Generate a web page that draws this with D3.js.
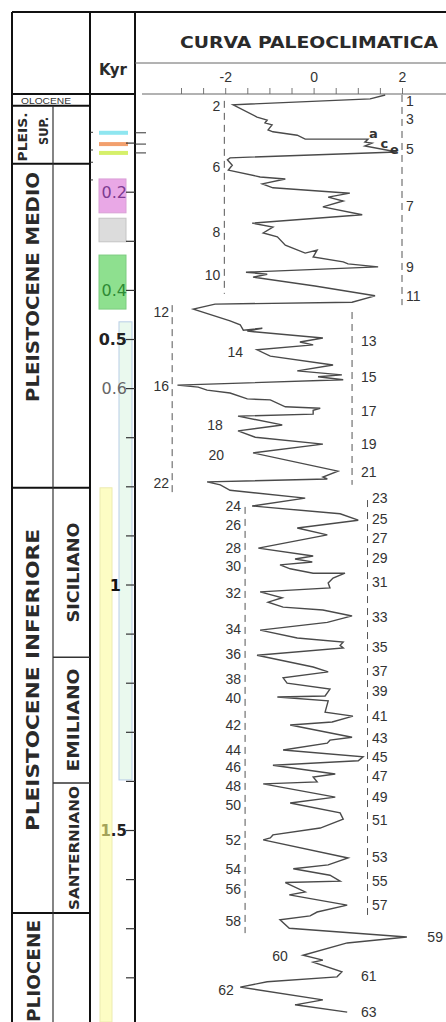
<!DOCTYPE html>
<html>
<head>
<meta charset="utf-8">
<script src="https://cdn.jsdelivr.net/npm/d3@7/dist/d3.min.js"></script>
<style>
  body { margin: 0; background: #fff; }
  svg { display: block; }
  text { font-family: "Liberation Sans", Arial, sans-serif; }
  .era { font-family: "DejaVu Sans", sans-serif; font-weight: bold; fill: #2a2a2a; }
</style>
</head>
<body>
<svg width="446" height="1022"></svg>
<script>
// ---- data ----
// paleoclimatic curve: value on the top axis, age (kyr) down the column
var curveValue = [1.62, 1.28, -1.82, -1.28, -1.05, -1.10, -0.94, -1.03, -0.92, -0.37, -0.19, 1.23, 1.16, 1.32, 1.16, 1.89,
  -1.89, -1.95, -1.84, -1.93, -1.21, -0.64, -1.16, -0.92, 0.82, 0.33, 0.67, 0.21, 1.10, -1.39, -0.92, -1.14, -0.82,
  -0.64, -0.19, 0.08, -0.01, 0.67, 0.78, 1.46, -1.53, -1.05, -1.37, 0.03, 1.39, 0.87, -2.23, -2.72, -1.89, -1.66,
  -1.59, -1.16, -1.50, 0.21, -0.31, -0.01, -1.28, -0.98, 0.44, -0.37, 0.64, 0.10, 0.67, -3.08, -2.61, -2.41, -1.89,
  -1.50, -0.98, -0.64, 0.15, -0.01, -0.01, -1.71, -0.71, -1.71, -1.32, 0.21, -1.37, 0.55, 0.21, 0.31, -2.41, -2.11,
  -1.89, -0.19, -1.39, 0.60, 1.01, -0.37, 0.31, -1.25, -0.01, -0.42, -0.03, -0.76, -0.53, -0.01, 0.71, 0.44, 0.33,
  0.37, -1.21, -0.71, -1.03, -0.69, 0.21, 0.87, 0.31, -1.21, -0.37, 0.67, 0.60, 0.67, -1.28, -0.01, 0.33, -0.69,
  -0.60, 0.37, 0.26, -0.82, 0.33, 0.26, 0.89, 0.42, -0.53, 0.87, 0.37, 0.31, -0.69, 1.12, 1.01, -0.92, 0.49, -0.01,
  0.08, -1.14, 0.49, -0.53, 0.60, 0.67, 0.15, -0.92, -0.98, -1.14, 0.78, 0.33, -0.46, 0.37, 0.60, -0.64, -0.19,
  -0.55, 0.76, 0.08, -0.08, -0.76, -0.55, 2.11, 0.76, -0.24, 0.21, -0.01, 0.64, 0.53, -1.05, -1.66, 0.21, -0.42, 0.76];
var curveAge = [2, 10, 22, 47, 53, 59, 63, 73, 77, 84, 92, 92, 98, 100, 106, 118,
  130, 134, 145, 155, 169, 173, 183, 191, 202, 210, 218, 230, 246, 263, 271, 283, 291,
  308, 324, 318, 332, 342, 346, 352, 363, 367, 373, 391, 411, 424, 428, 438, 462, 470,
  481, 477, 483, 497, 505, 511, 521, 534, 552, 564, 572, 576, 582, 593, 597, 603, 609,
  621, 623, 637, 640, 644, 652, 656, 674, 686, 699, 713, 731, 768, 780, 784, 790, 796,
  807, 823, 839, 855, 868, 884, 898, 925, 941, 947, 953, 959, 967, 976, 976, 986, 996,
  1006, 1014, 1026, 1035, 1045, 1051, 1063, 1076, 1092, 1108, 1116, 1123, 1128, 1143, 1167, 1177, 1189,
  1200, 1212, 1226, 1228, 1236, 1259, 1267, 1279, 1285, 1310, 1316, 1322, 1336, 1350, 1358, 1367, 1385, 1391,
  1401, 1405, 1432, 1444, 1464, 1477, 1495, 1509, 1515, 1519, 1556, 1570, 1578, 1591, 1603, 1606, 1625,
  1631, 1652, 1666, 1674, 1682, 1699, 1717, 1729, 1754, 1764, 1768, 1788, 1798, 1808, 1819, 1845, 1855, 1870];

// dashed reference lines
var dashValue = [-2.02, 2.0, -3.2, 0.87, -1.55, 1.22];
var dashFrom = [14, 2, 430, 444, 841, 827];
var dashTo = [407, 430, 813, 796, 1709, 1672];

// isotope stage labels, grouped by the line they hang on
var stageGroups = [
  { v: -2.11, anchor: "end", stages: [2, 6, 8, 10], ages: [24, 149, 281, 369] },
  { v: 2.09, anchor: "start", stages: [1, 3, 5, 7, 9, 11], ages: [14, 51, 112, 228, 352, 411] },
  { v: -3.27, anchor: "end", stages: [12, 16, 22], ages: [444, 595, 792] },
  { v: 1.07, anchor: "start", stages: [13, 15, 17, 19, 21], ages: [503, 576, 646, 713, 770] },
  { v: -1.64, anchor: "end", stages: [24, 26, 28, 30, 32, 34, 36, 38, 40, 42, 44, 46, 48, 50, 52, 54, 56, 58],
    ages: [839, 878, 925, 961, 1016, 1090, 1141, 1191, 1230, 1285, 1336, 1371, 1409, 1448, 1519, 1578, 1619, 1684] },
  { v: 1.32, anchor: "start", stages: [23, 25, 27, 29, 31, 33, 35, 37, 39, 41, 43, 45, 47, 49, 51, 53, 55, 57],
    ages: [823, 866, 904, 945, 994, 1065, 1126, 1175, 1216, 1267, 1312, 1350, 1389, 1432, 1479, 1554, 1603, 1652] }
];
var freeStages = [14, 18, 20, 59, 60, 61, 62, 63];
var freeValue = [-1.77, -2.23, -2.2, 2.75, -0.76, 1.25, -1.98, 1.25];
var freeAge = [525, 674, 735, 1717, 1756, 1796, 1825, 1870];
var subStages = ["a", "c", "e"];
var subValue = [1.35, 1.6, 1.83];
var subAge = [80, 100, 113];

// Kyr column
var kyrTicks = d3.range(100, 1900, 100);
var kyrLabelAge = [200, 400, 500, 600, 1000];
var kyrLabelText = ["0.2", "0.4", "0.5", "0.6", "1"];
var kyrLabelColor = ["#7d3b92", "#2f8a35", "#222", "#666", "#111"];
var substageLineAge = [79, 102, 120];
var substageLineColor = ["#8fe6f0", "#f2a06e", "#d6f06a"];
var boxFrom = [173, 253, 328, 464, 802];
var boxTo = [242, 301, 438, 1397, 1890];
var boxFill = ["#e9a8e6", "#dcdcdc", "#8ee08f", "#eaf9ee", "#fdfdc4"];
var boxStroke = ["#d9a0d6", "#c4c4c4", "#7dcc80", "#b8cde6", "#ecebb0"];
var boxLeft = [99, 99, 99, 119, 100];
var boxRight = [126, 126, 126, 132, 112];

// chronostratigraphy (kyr)
var epochName = ["OLOCENE", "PLEIS. SUP.", "PLEISTOCENE MEDIO", "PLEISTOCENE INFERIORE", "PLIOCENE"];
var epochFrom = [0, 24, 142, 802, 1668];
var stageName = ["SICILIANO", "EMILIANO", "SANTERNIANO"];
var stageFrom = [802, 1147, 1403];
var stageTo = [1147, 1403, 1668];

// ---- drawing ----
var svg = d3.select("svg");
var x = d3.scaleLinear().domain([-3, 2]).range([181, 402]);
var y = d3.scaleLinear().domain([0, 1890]).range([94, 1022]);

// frame
var frame = svg.append("g").attr("stroke", "#111").attr("stroke-width", 2);
frame.append("line").attr("x1", 12).attr("x2", 446).attr("y1", 12).attr("y2", 12);
[12, 90, 135].forEach(function (xx) {
  frame.append("line").attr("x1", xx).attr("x2", xx).attr("y1", 12).attr("y2", 1022);
});
frame.append("line").attr("x1", 12).attr("x2", 135).attr("y1", y(0)).attr("y2", y(0));
epochFrom.slice(1).forEach(function (a) {
  frame.append("line").attr("x1", 12).attr("x2", 90).attr("y1", y(a)).attr("y2", y(a));
});
svg.append("line").attr("x1", 53).attr("x2", 53).attr("y1", y(epochFrom[1])).attr("y2", 1022)
  .attr("stroke", "#333").attr("stroke-width", 1.2);
stageFrom.slice(1).forEach(function (a) {
  svg.append("line").attr("x1", 53).attr("x2", 90).attr("y1", y(a)).attr("y2", y(a))
    .attr("stroke", "#333").attr("stroke-width", 1.5);
});
svg.append("line").attr("x1", 135).attr("x2", 446).attr("y1", 63).attr("y2", 63)
  .attr("stroke", "#666").attr("stroke-width", 1);

// headers
svg.append("text").attr("x", 309).attr("y", 48).attr("text-anchor", "middle")
  .attr("textLength", 258).attr("lengthAdjust", "spacingAndGlyphs")
  .attr("class", "era").style("font-size", "16px").text("CURVA PALEOCLIMATICA");
svg.append("text").attr("x", 113).attr("y", 75).attr("text-anchor", "middle")
  .attr("class", "era").style("font-size", "15px").text("Kyr");

// epoch labels
svg.append("text").attr("x", 46).attr("y", 103.5).attr("text-anchor", "middle")
  .attr("textLength", 50).attr("lengthAdjust", "spacingAndGlyphs")
  .style("font-size", "9px").style("fill", "#333").text(epochName[0]);

function vlabel(cx, cy, len, size, txt) {
  svg.append("text")
    .attr("transform", "translate(" + cx + "," + cy + ") rotate(-90)")
    .attr("text-anchor", "middle").attr("dy", "0.36em")
    .attr("textLength", len).attr("lengthAdjust", "spacingAndGlyphs")
    .attr("class", "era").style("font-size", size + "px").text(txt);
}
vlabel(22, 137, 49, 13, "PLEIS.");
vlabel(43, 131, 28, 13, "SUP.");
vlabel(33, 287, 230, 17, epochName[2]);
vlabel(33, 680, 302, 17, epochName[3]);
vlabel(34, 971, 102, 17, epochName[4]);
var stageLen = [100, 103, 124];
stageName.forEach(function (n, i) {
  vlabel(74, (y(stageFrom[i]) + y(stageTo[i])) / 2, stageLen[i], i === 2 ? 14 : 15, n);
});

// Kyr column boxes
boxFrom.forEach(function (a, i) {
  svg.append("rect").attr("x", boxLeft[i]).attr("width", boxRight[i] - boxLeft[i])
    .attr("y", y(a)).attr("height", Math.min(y(boxTo[i]), 1024) - y(a))
    .attr("fill", boxFill[i]).attr("stroke", boxStroke[i]).attr("stroke-width", 1);
});
substageLineAge.forEach(function (a, i) {
  svg.append("rect").attr("x", 99).attr("width", 29).attr("y", y(a) - 2).attr("height", 4)
    .attr("fill", substageLineColor[i]);
  svg.append("line").attr("x1", 135).attr("x2", 146).attr("y1", y(a)).attr("y2", y(a))
    .attr("stroke", "#333").attr("stroke-width", 1);
});
// minor marks on the left edge of the Kyr column
[78, 114, 139, 175].forEach(function (a) {
  svg.append("line").attr("x1", 90).attr("x2", 93).attr("y1", y(a)).attr("y2", y(a))
    .attr("stroke", "#333").attr("stroke-width", 1);
});
svg.selectAll(".kt").data(kyrTicks).enter().append("line")
  .attr("x1", 126).attr("x2", 135)
  .attr("y1", function (d) { return y(d); }).attr("y2", function (d) { return y(d); })
  .attr("stroke", "#333").attr("stroke-width", 1.2);
svg.selectAll(".kl").data(kyrLabelAge).enter().append("text")
  .attr("x", function (d, i) { return i === 4 ? 121 : 127; })
  .attr("y", function (d) { return y(d); }).attr("dy", "0.36em")
  .attr("text-anchor", "end")
  .style("font-family", "DejaVu Sans, sans-serif")
  .style("font-size", "16px")
  .style("font-weight", function (d, i) { return i === 2 || i === 4 ? "bold" : "normal"; })
  .style("fill", function (d, i) { return kyrLabelColor[i]; })
  .text(function (d, i) { return kyrLabelText[i]; });
var l15 = svg.append("text").attr("x", 127).attr("y", y(1500)).attr("dy", "0.36em")
  .attr("text-anchor", "end").style("font-family", "DejaVu Sans, sans-serif")
  .style("font-size", "15px").style("font-weight", "bold");
l15.append("tspan").style("fill", "#a4a35a").text("1");
l15.append("tspan").style("fill", "#222").text(".5");

// top axis
var axis = d3.axisTop(x).tickValues(d3.range(-3, 2.01, 0.5)).tickSize(6).tickPadding(6)
  .tickFormat(function (d) { return d === -2 ? "-2" : d === 0 ? "0" : d === 2 ? "2" : ""; });
var ag = svg.append("g").attr("transform", "translate(0," + y(0) + ")").call(axis);
ag.select(".domain").remove();
ag.selectAll(".tick line").attr("stroke", "#777");
ag.selectAll(".tick text").style("font-size", "14px").style("fill", "#333")
  .style("font-family", "Liberation Sans, sans-serif");
ag.append("line").attr("x1", 142).attr("x2", 446).attr("stroke", "#666").attr("stroke-width", 1.2);

// dashed lines
dashValue.forEach(function (v, i) {
  svg.append("line").attr("x1", x(v)).attr("x2", x(v))
    .attr("y1", y(dashFrom[i])).attr("y2", y(dashTo[i]))
    .attr("stroke", "#555").attr("stroke-width", 1).attr("stroke-dasharray", "7,5");
});

// curve
var pts = curveAge.map(function (a, i) { return [curveValue[i], a]; });
var line = d3.line().x(function (d) { return x(d[0]); }).y(function (d) { return y(d[1]); });
svg.append("path").datum(pts).attr("d", line)
  .attr("fill", "none").attr("stroke", "#4a4a4a").attr("stroke-width", 1.4)
  .attr("stroke-linejoin", "miter");

// stage labels
var lab = svg.append("g").style("font-size", "14px").style("fill", "#333");
stageGroups.forEach(function (g) {
  g.stages.forEach(function (s, i) {
    lab.append("text").attr("x", x(g.v)).attr("y", y(g.ages[i])).attr("dy", "0.36em")
      .attr("text-anchor", g.anchor).text(s);
  });
});
freeStages.forEach(function (s, i) {
  lab.append("text").attr("x", x(freeValue[i])).attr("y", y(freeAge[i])).attr("dy", "0.36em")
    .attr("text-anchor", "middle").text(s);
});
subStages.forEach(function (s, i) {
  lab.append("text").attr("x", x(subValue[i])).attr("y", y(subAge[i])).attr("dy", "0.36em")
    .attr("text-anchor", "middle").style("font-size", "13px").style("font-weight", "bold")
    .style("font-family", "DejaVu Sans, sans-serif").text(s);
});
</script>
</body>
</html>
